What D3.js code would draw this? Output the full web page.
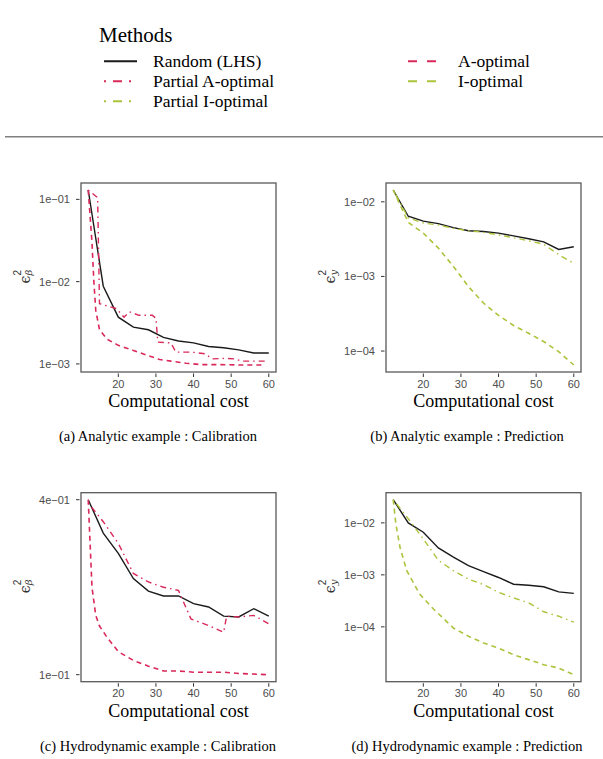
<!DOCTYPE html>
<html>
<head>
<meta charset="utf-8">
<script src="https://cdn.jsdelivr.net/npm/d3@7"></script>
<style>
  body { margin: 0; background: #fff; }
  svg { display: block; }
</style>
</head>
<body>
<div id="chart"></div>
<script>
// x values shared by most series
const costs = [12, 16, 20, 24, 28, 32, 36, 40, 44, 48, 52, 56, 60];

// (a) analytic, calibration
const aRandom = [0.13, 0.0088, 0.0037, 0.0028, 0.0026, 0.0021, 0.0019, 0.0018, 0.00163, 0.00157, 0.00148, 0.00136, 0.00136];
const aPartialCost = [12, 14.5, 15, 19.5, 21.5, 23, 25.5, 29, 30, 30.5, 34, 35.3, 39.5, 43, 45, 48.5, 51, 52.8, 59];
const aPartialVal = [0.13, 0.105, 0.0054, 0.0047, 0.0037, 0.0043, 0.0039, 0.0039, 0.0036, 0.00184, 0.0018, 0.00139, 0.00139, 0.00133, 0.00115, 0.00117, 0.00115, 0.00108, 0.00108];
const aOptCost = [12, 13, 13.5, 14, 15, 17, 20, 24, 28, 31, 34, 38, 42, 47, 52, 59];
const aOptVal = [0.13, 0.03, 0.01, 0.0045, 0.0026, 0.002, 0.00168, 0.00146, 0.00126, 0.00113, 0.00108, 0.00102, 0.00098, 0.00098, 0.00097, 0.00097];

// (b) analytic, prediction
const bRandom = [0.0144, 0.0064, 0.0055, 0.0051, 0.0045, 0.0041, 0.0040, 0.0038, 0.0035, 0.0032, 0.0029, 0.0023, 0.0025];
const bPartial = [0.0144, 0.0061, 0.0052, 0.0049, 0.0044, 0.0041, 0.0039, 0.0036, 0.0033, 0.0030, 0.0027, 0.00196, 0.0015];
const bOpt = [0.0144, 0.0053, 0.0038, 0.0024, 0.00136, 0.00073, 0.00044, 0.00030, 0.00022, 0.000173, 0.000134, 0.000098, 0.000065];

// (c) hydrodynamic, calibration
const cRandom = [0.4, 0.307, 0.2615, 0.214, 0.194, 0.1866, 0.1866, 0.1756, 0.171, 0.159, 0.158, 0.1687, 0.159];
const cPartialCost = [12, 16, 20, 24, 28, 32, 36, 39.3, 44, 48, 48.8, 52, 56, 60];
const cPartialVal = [0.39, 0.336, 0.283, 0.223, 0.2085, 0.2, 0.195, 0.1556, 0.1476, 0.14, 0.159, 0.158, 0.16, 0.1496];
const cOptCost = [12, 13, 14, 15, 17, 20, 24, 28, 32, 36, 40, 44, 48, 52, 56, 60];
const cOptVal = [0.4, 0.2, 0.16, 0.147, 0.1345, 0.12, 0.112, 0.107, 0.103, 0.103, 0.102, 0.102, 0.102, 0.101, 0.1005, 0.1];

// (d) hydrodynamic, prediction
const dRandom = [0.0279, 0.01, 0.0066, 0.0033, 0.0022, 0.0015, 0.00115, 0.00089, 0.00066, 0.00063, 0.00059, 0.00047, 0.00044];
const dPartial = [0.0279, 0.012, 0.0049, 0.0019, 0.0012, 0.00083, 0.00065, 0.00046, 0.00036, 0.00029, 0.000195, 0.00016, 0.000123];
const dOptCost = [12, 12.7, 13.8, 15.6, 19, 22.7, 28, 32, 36, 40, 44, 48, 52, 56, 60];
const dOptVal = [0.0279, 0.0096, 0.0034, 0.0012, 0.00043, 0.00022, 0.000095, 0.000066, 0.000049, 0.000039, 0.000029, 0.0000234, 0.0000187, 0.0000161, 0.000012];

const xTicks = [20, 30, 40, 50, 60];
const methods = ["Random (LHS)", "Partial A-optimal", "Partial I-optimal", "A-optimal", "I-optimal"];
const captions = [
    "(a) Analytic example : Calibration",
    "(b) Analytic example : Prediction",
    "(c) Hydrodynamic example : Calibration",
    "(d) Hydrodynamic example : Prediction"
];

const red = "#d9285a";
const green = "#aac43c";
const styles = {
    "Random (LHS)": { color: "#1a1a1a", dash: null, width: 1.4 },
    "Partial A-optimal": { color: red, dash: "1.5,4,6,4", width: 1.4 },
    "Partial I-optimal": { color: green, dash: "1.5,4,6,4", width: 1.4 },
    "A-optimal": { color: red, dash: "5,4", width: 1.6 },
    "I-optimal": { color: green, dash: "5,4", width: 1.6 }
};

const zip = (xs, ys) => xs.map((x, i) => [x, ys[i]]);

const panels = [
    { x0: 81, y0: 183, sub: "β", yTicks: [1e-1, 1e-2, 1e-3], series: [
        ["Random (LHS)", zip(costs, aRandom)],
        ["Partial A-optimal", zip(aPartialCost, aPartialVal)],
        ["A-optimal", zip(aOptCost, aOptVal)]] },
    { x0: 386, y0: 183, sub: "y", yTicks: [1e-2, 1e-3, 1e-4], series: [
        ["Random (LHS)", zip(costs, bRandom)],
        ["Partial I-optimal", zip(costs, bPartial)],
        ["I-optimal", zip(costs, bOpt)]] },
    { x0: 81, y0: 492.7, sub: "β", yTicks: [4e-1, 1e-1], series: [
        ["Random (LHS)", zip(costs, cRandom)],
        ["Partial A-optimal", zip(cPartialCost, cPartialVal)],
        ["A-optimal", zip(cOptCost, cOptVal)]] },
    { x0: 386, y0: 492.7, sub: "y", yTicks: [1e-2, 1e-3, 1e-4], series: [
        ["Random (LHS)", zip(costs, dRandom)],
        ["Partial I-optimal", zip(costs, dPartial)],
        ["I-optimal", zip(dOptCost, dOptVal)]] }
];

const width = 603, height = 759;
const pw = 195, ph = 189;
const serif = "'Liberation Serif', 'Times New Roman', serif";
const sans = "'Liberation Sans', Arial, sans-serif";

const svg = d3.select("#chart").append("svg")
    .attr("width", width)
    .attr("height", height);

// legend
const leg = svg.append("g");
leg.append("text")
    .attr("x", 99).attr("y", 42)
    .attr("font-family", serif).attr("font-size", 21)
    .text("Methods");
const legPos = [
    [104, 137, 153, 66.7], [104, 137, 153, 86.7], [104, 137, 153, 106.7],
    [408, 436, 458, 66.7], [408, 436, 458, 86.7]
];
methods.forEach((m, i) => {
    const [lx1, lx2, tx, ty] = legPos[i];
    const s = styles[m];
    leg.append("line")
        .attr("x1", lx1).attr("x2", lx2)
        .attr("y1", ty - 5.5).attr("y2", ty - 5.5)
        .attr("stroke", s.color)
        .attr("stroke-width", 2)
        .attr("stroke-dasharray", s.dash ? (m.startsWith("Partial") ? "2,7,9,7" : "9,10") : null);
    leg.append("text")
        .attr("x", tx).attr("y", ty)
        .attr("font-family", serif).attr("font-size", 17.5)
        .text(m);
});

svg.append("line")
    .attr("x1", 5).attr("x2", width)
    .attr("y1", 136.7).attr("y2", 136.7)
    .attr("stroke", "#808080").attr("stroke-width", 1.5);

const fmt = v => {
    const e = Math.floor(Math.log10(v) + 1e-9);
    const m = Math.round(v / Math.pow(10, e));
    const ee = Math.abs(e).toString().padStart(2, "0");
    return m + "e" + (e < 0 ? "\u2212" : "+") + ee;
};

panels.forEach((p, k) => {
    const g = svg.append("g").attr("transform", `translate(${p.x0},${p.y0})`);

    const allX = p.series.flatMap(s => s[1].map(d => d[0]));
    const allY = p.series.flatMap(s => s[1].map(d => Math.log10(d[1])));
    const [xmin, xmax] = d3.extent(allX);
    const [lmin, lmax] = d3.extent(allY);
    const xpad = (xmax - xmin) * 0.04, lpad = (lmax - lmin) * 0.04;

    const x = d3.scaleLinear().domain([xmin - xpad, xmax + xpad]).range([0, pw]);
    const y = d3.scaleLog()
        .domain([Math.pow(10, lmin - lpad), Math.pow(10, lmax + lpad)])
        .range([ph, 0]);

    const line = d3.line().x(d => x(d[0])).y(d => y(d[1]));

    p.series.forEach(([name, pts]) => {
        const s = styles[name];
        g.append("path")
            .datum(pts)
            .attr("d", line)
            .attr("fill", "none")
            .attr("stroke", s.color)
            .attr("stroke-width", s.width)
            .attr("stroke-dasharray", s.dash);
    });

    g.append("rect")
        .attr("width", pw).attr("height", ph)
        .attr("fill", "none")
        .attr("stroke", "#595959").attr("stroke-width", 1.3);

    // x ticks
    const xa = g.append("g").attr("transform", `translate(0,${ph})`);
    xTicks.forEach(t => {
        xa.append("line")
            .attr("x1", x(t)).attr("x2", x(t))
            .attr("y1", 1.5).attr("y2", 5)
            .attr("stroke", "#333");
        xa.append("text")
            .attr("x", x(t)).attr("y", 15.5)
            .attr("text-anchor", "middle")
            .attr("font-family", sans).attr("font-size", 11)
            .attr("fill", "#4d4d4d")
            .text(t);
    });

    // y ticks
    p.yTicks.forEach(t => {
        g.append("line")
            .attr("x1", -5).attr("x2", -1.5)
            .attr("y1", y(t)).attr("y2", y(t))
            .attr("stroke", "#333");
        g.append("text")
            .attr("x", -11).attr("y", y(t) + 4)
            .attr("text-anchor", "end")
            .attr("font-family", sans).attr("font-size", 11)
            .attr("fill", "#4d4d4d")
            .text(fmt(t));
    });

    g.append("text")
        .attr("x", pw / 2).attr("y", ph + 35)
        .attr("text-anchor", "middle")
        .attr("font-family", serif).attr("font-size", 18)
        .text("Computational cost");

    // y label: epsilon squared with subscript
    const yl = g.append("g")
        .attr("transform", `translate(-51,${ph / 2 + 6}) rotate(-90)`)
        .attr("fill", "#333");
    yl.append("text").attr("x", 0).attr("y", 0)
        .attr("font-family", "'DejaVu Serif', serif").attr("font-size", 14)
        .text("\u03f5");
    yl.append("text").attr("x", 8).attr("y", -9)
        .attr("font-family", sans).attr("font-size", 10)
        .text("2");
    yl.append("text").attr("x", 8).attr("y", 2)
        .attr("font-family", "'DejaVu Serif', serif").attr("font-size", 10)
        .attr("font-style", "italic")
        .text(p.sub);

    g.append("text")
        .attr("x", k % 2 ? 81 : 77).attr("y", ph + 69)
        .attr("text-anchor", "middle")
        .attr("font-family", serif).attr("font-size", 14.5)
        .text(captions[k]);
});
</script>
</body>
</html>
